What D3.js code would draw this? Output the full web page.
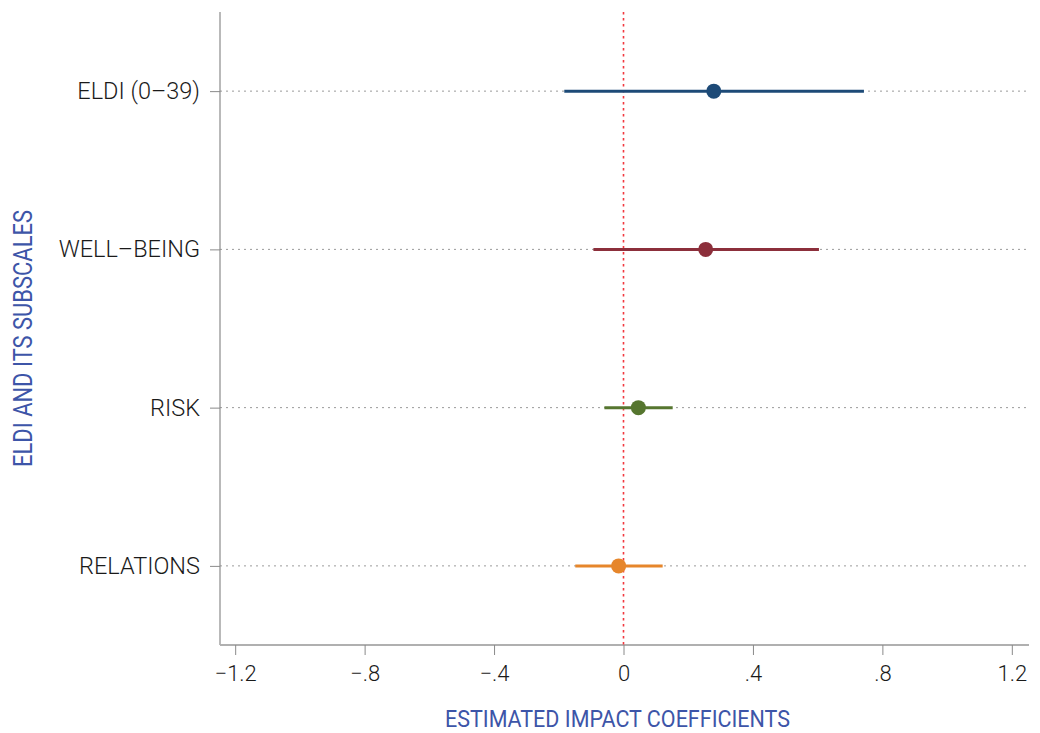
<!DOCTYPE html>
<html><head><meta charset="utf-8">
<script src="https://cdn.jsdelivr.net/npm/d3@7"></script>
<style>body{margin:0;background:#fff}svg{display:block}</style>
</head><body>
<svg id="c" width="1040" height="733"></svg>
<script>
const categories = ["ELDI (0\u201339)", "WELL\u2013BEING", "RISK", "RELATIONS"];
const estimates = [0.279, 0.254, 0.046, -0.015];
const lower = [-0.183, -0.093, -0.059, -0.149];
const upper = [0.743, 0.604, 0.152, 0.121];
const colors = ["#1d4a77", "#8c2f3b", "#56762f", "#e6862b"];
const xTicks = [-1.2, -0.8, -0.4, 0, 0.4, 0.8, 1.2];
const xTickLabels = ["\u22121.2", "\u2212.8", "\u2212.4", "0", ".4", ".8", "1.2"];

const svg = d3.select("#c");
const L = 220, R = 1029, T = 12, B = 645;
const x = d3.scaleLinear().domain([-1.25, 1.25]).range([L - 1, R - 1]);
const y = d3.scalePoint().domain(categories).range([T, B]).padding(0.5);
const font = "Roboto, 'Noto Sans', sans-serif";

// gridlines
svg.append("g").selectAll("line").data(categories).join("line")
  .attr("x1", L).attr("x2", R).attr("y1", d => y(d)).attr("y2", d => y(d))
  .attr("stroke", "#9a9a9a").attr("stroke-width", 1).attr("stroke-dasharray", "2,4");

// y axis
const ya = svg.append("g").attr("transform", `translate(${L},0)`)
  .call(d3.axisLeft(y).tickSize(10).tickPadding(10));
ya.select(".domain").attr("d", `M0,${T}V${B}`).attr("stroke", "#8a8a8a").attr("stroke-width", 1.2);
ya.selectAll(".tick line").attr("stroke", "#8a8a8a");
ya.selectAll(".tick text").attr("font-family", font).attr("font-size", 23.5).attr("fill", "#1a1a1a").attr("font-weight", 300);

// x axis
const xa = svg.append("g").attr("transform", `translate(0,${B})`)
  .call(d3.axisBottom(x).tickValues(xTicks).tickFormat((d, i) => xTickLabels[i]).tickSize(10).tickPadding(10));
xa.select(".domain").attr("d", `M${L},0H${R}`).attr("stroke", "#b0b0b0").attr("stroke-width", 2);
xa.selectAll(".tick line").attr("stroke", "#8a8a8a");
xa.selectAll(".tick text").attr("font-family", font).attr("font-size", 22).attr("fill", "#1a1a1a").attr("font-weight", 300);

// zero reference line
svg.append("line").attr("x1", x(0)).attr("x2", x(0)).attr("y1", T).attr("y2", B)
  .attr("stroke", "#f2383f").attr("stroke-width", 1.6).attr("stroke-dasharray", "2.5,3.5");

// CIs and points
const g = svg.append("g");
categories.forEach((c, i) => {
  g.append("line").attr("x1", x(lower[i])).attr("x2", x(upper[i]))
    .attr("y1", y(c)).attr("y2", y(c)).attr("stroke", colors[i]).attr("stroke-width", 3);
  g.append("circle").attr("cx", x(estimates[i])).attr("cy", y(c)).attr("r", 7.5).attr("fill", colors[i]);
});

// axis titles
svg.append("text").attr("x", 617.5).attr("y", 727).attr("text-anchor", "middle")
  .attr("font-family", font).attr("font-size", 23.5).attr("fill", "#3d55a8")
  .attr("textLength", 345).attr("lengthAdjust", "spacingAndGlyphs")
  .text("ESTIMATED IMPACT COEFFICIENTS");
svg.append("text").attr("transform", "translate(32,338.5) rotate(-90)").attr("text-anchor", "middle")
  .attr("font-family", font).attr("font-size", 25).attr("fill", "#3d55a8")
  .attr("textLength", 257).attr("lengthAdjust", "spacingAndGlyphs")
  .text("ELDI AND ITS SUBSCALES");
</script>
</body></html>
